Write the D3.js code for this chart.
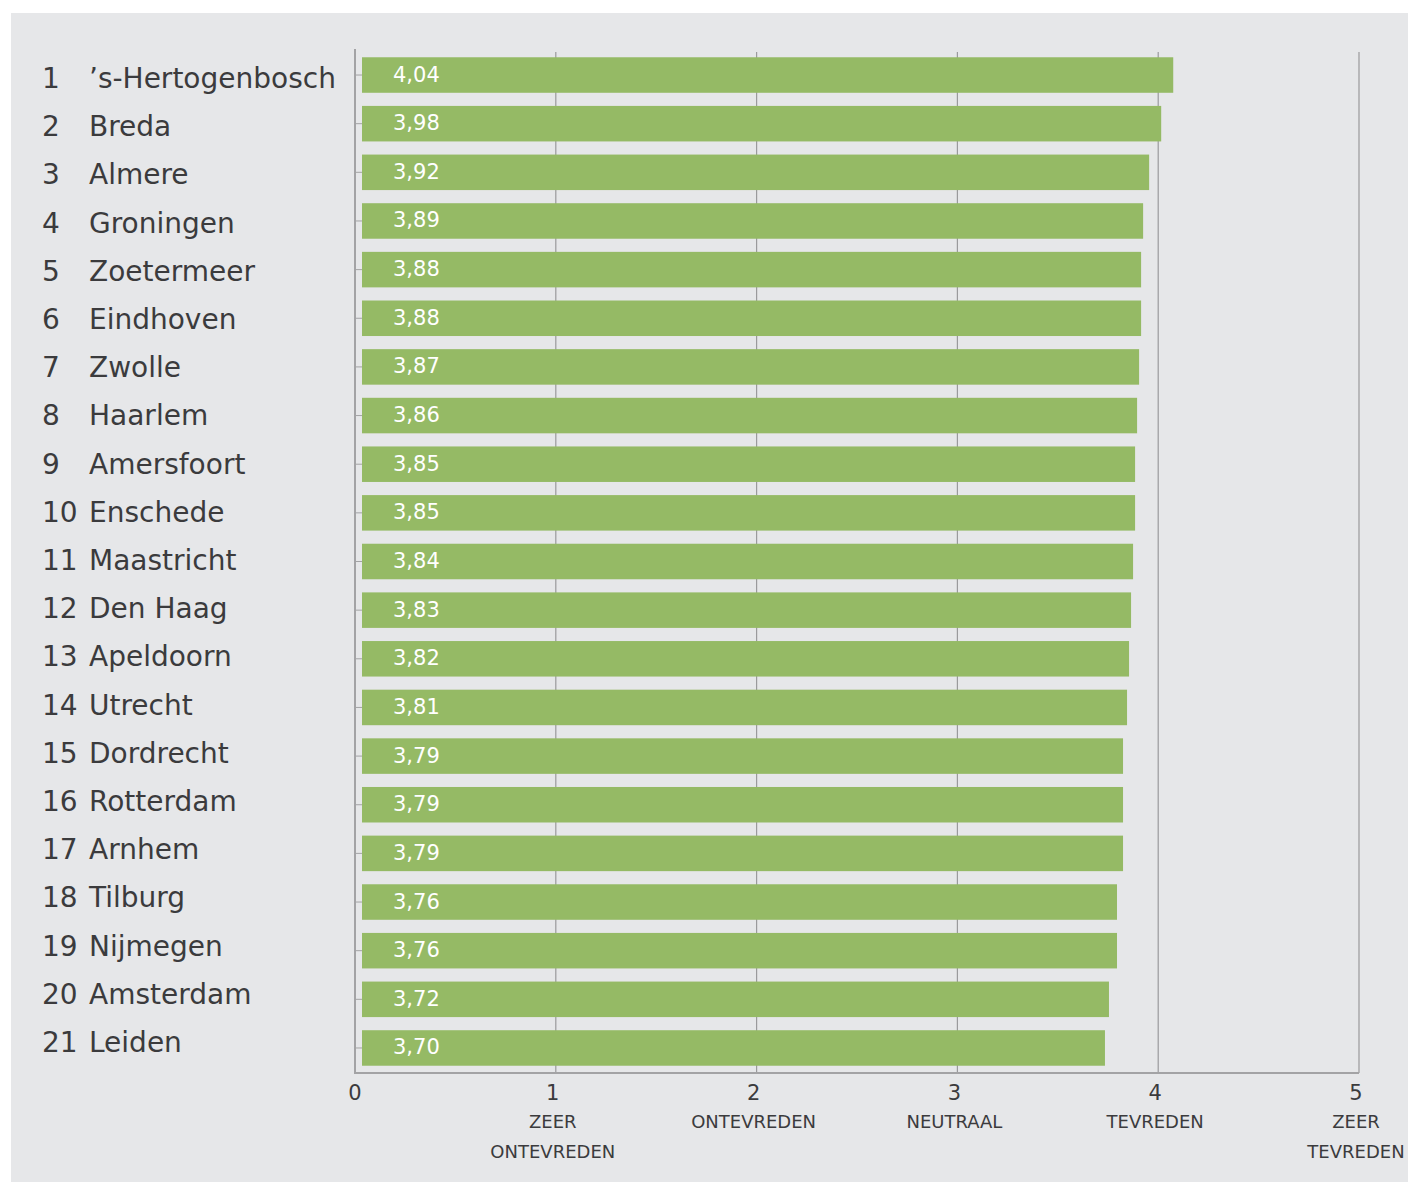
<!DOCTYPE html>
<html>
<head>
<meta charset="utf-8">
<script src="https://cdn.jsdelivr.net/npm/d3@7"></script>
<style>
  html, body { margin: 0; padding: 0; background: #ffffff; }
  svg { display: block; }
</style>
</head>
<body>
<svg id="chart" width="1408" height="1182"></svg>
<script>
const ranks = ["1","2","3","4","5","6","7","8","9","10","11","12","13","14","15","16","17","18","19","20","21"];
const cities = ["\u2019s-Hertogenbosch","Breda","Almere","Groningen","Zoetermeer","Eindhoven","Zwolle","Haarlem","Amersfoort","Enschede","Maastricht","Den Haag","Apeldoorn","Utrecht","Dordrecht","Rotterdam","Arnhem","Tilburg","Nijmegen","Amsterdam","Leiden"];
const scores = [4.04,3.98,3.92,3.89,3.88,3.88,3.87,3.86,3.85,3.85,3.84,3.83,3.82,3.81,3.79,3.79,3.79,3.76,3.76,3.72,3.70];
const tickValues = [0,1,2,3,4,5];
const tickCategories = [[], ["ZEER","ONTEVREDEN"], ["ONTEVREDEN"], ["NEUTRAAL"], ["TEVREDEN"], ["ZEER","TEVREDEN"]];

(function () {
const svg = d3.select("#chart");
const FONT = "'DejaVu Sans', sans-serif";
const TEXT = "#3b3b3d";

// panel background
svg.append("rect").attr("x", 11).attr("y", 13).attr("width", 1408 - 11).attr("height", 1182 - 13).attr("fill", "#e6e7e9");

const x = d3.scaleLinear().domain([0, 5]).range([355, 1359]);
const y = d3.scaleBand().domain(d3.range(cities.length)).range([49, 1074]).paddingInner(0.27).paddingOuter(0.17);
const yLabel = d3.scalePoint().domain(d3.range(cities.length)).range([88, 1052]);
const plotTop = 49, plotBottom = 1073;

// gridlines
svg.append("g").selectAll("line").data(tickValues.filter(d => d > 0)).join("line")
  .attr("x1", d => x(d)).attr("x2", d => x(d))
  .attr("y1", plotTop + 3).attr("y2", plotBottom)
  .attr("stroke", "#9a9a9c").attr("stroke-width", 1.2);

// bars
const barOffset = 7;
svg.append("g").selectAll("rect").data(scores).join("rect")
  .attr("x", x(0) + barOffset)
  .attr("y", (d, i) => y(i))
  .attr("width", d => x(d) - x(0))
  .attr("height", y.bandwidth())
  .attr("fill", "#95ba65");

// value labels
svg.append("g").selectAll("text").data(scores).join("text")
  .attr("x", x(0) + 38)
  .attr("y", (d, i) => y(i) + y.bandwidth() / 2 + 6.5)
  .attr("font-family", FONT).attr("font-size", 21).attr("fill", "#ffffff")
  .text(d => d3.format(".2f")(d).replace(".", ","));

// left axis line + small ticks
svg.append("line").attr("x1", x(0)).attr("x2", x(0)).attr("y1", plotTop).attr("y2", plotBottom + 1)
  .attr("stroke", "#a3a3a5").attr("stroke-width", 2);
svg.append("g").selectAll("line").data(scores).join("line")
  .attr("x1", x(0)).attr("x2", x(0) + barOffset)
  .attr("y1", (d, i) => y(i) + y.bandwidth() / 2)
  .attr("y2", (d, i) => y(i) + y.bandwidth() / 2)
  .attr("stroke", "#a3a3a5").attr("stroke-width", 1);

// bottom axis line
svg.append("line").attr("x1", x(0) - 1).attr("x2", x(5)).attr("y1", plotBottom).attr("y2", plotBottom)
  .attr("stroke", "#a3a3a5").attr("stroke-width", 2);

// rank + city labels
const lab = svg.append("g");
lab.selectAll("text.rank").data(ranks).join("text").attr("class", "rank")
  .attr("x", 42).attr("y", (d, i) => yLabel(i))
  .attr("font-family", FONT).attr("font-size", 28).attr("fill", TEXT)
  .text(d => d);
lab.selectAll("text.city").data(cities).join("text").attr("class", "city")
  .attr("x", 89).attr("y", (d, i) => yLabel(i))
  .attr("font-family", FONT).attr("font-size", 28).attr("fill", TEXT)
  .text(d => d);

// x tick numbers
svg.append("g").selectAll("text").data(tickValues).join("text")
  .attr("x", d => x(d) - (d === 0 ? 0 : 3)).attr("y", 1100)
  .attr("text-anchor", "middle")
  .attr("font-family", FONT).attr("font-size", 21).attr("fill", TEXT)
  .text(d => d);

// category labels
const cat = svg.append("g");
tickValues.forEach((v, i) => {
  tickCategories[i].forEach((line, j) => {
    cat.append("text")
      .attr("x", x(v) - 3).attr("y", 1128 + j * 30)
      .attr("text-anchor", "middle")
      .attr("font-family", FONT).attr("font-size", 18).attr("fill", TEXT)
      .text(line);
  });
});
})();
</script>
</body>
</html>
